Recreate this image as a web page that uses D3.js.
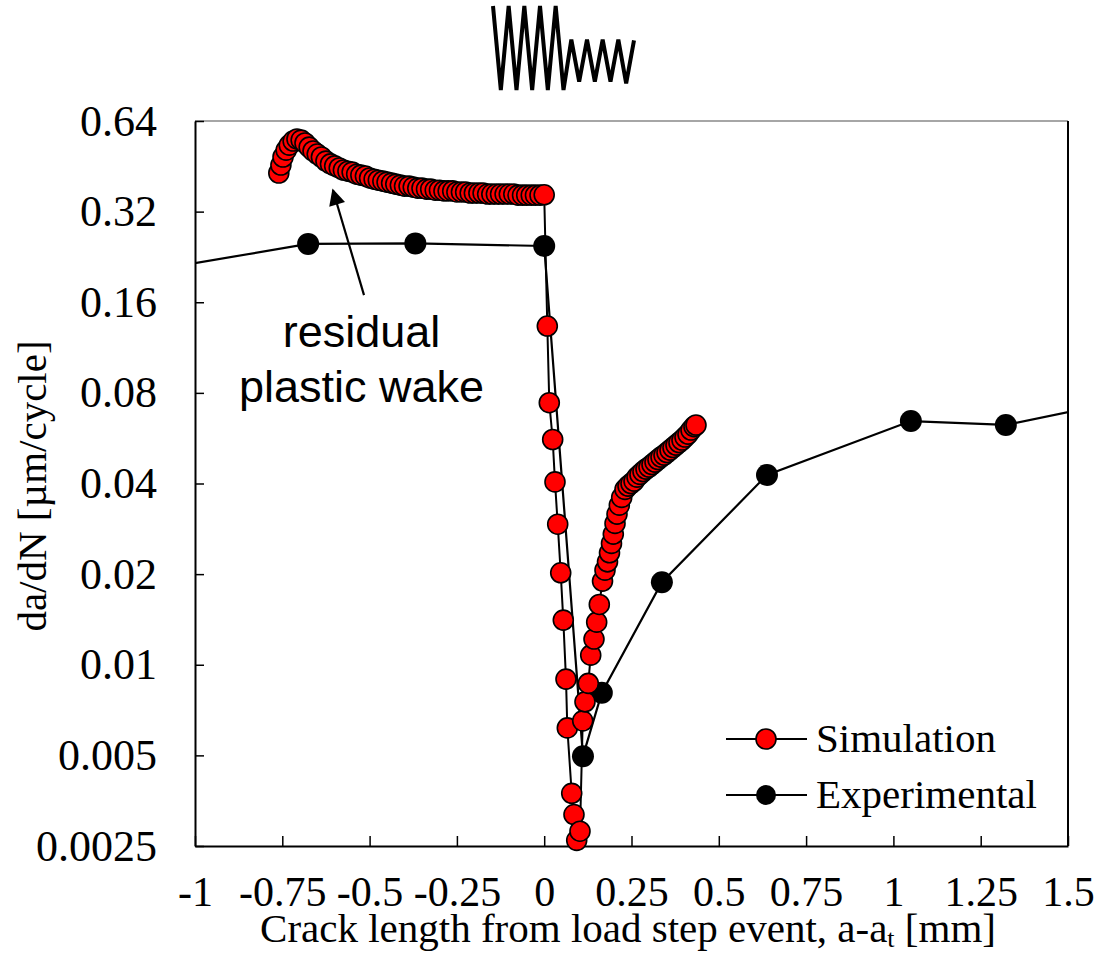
<!DOCTYPE html>
<html>
<head>
<meta charset="utf-8">
<script src="https://cdn.jsdelivr.net/npm/d3@7"></script>
<style>
  body { margin: 0; background: #fff; }
  svg { display: block; }
</style>
</head>
<body>
<div id="chart"></div>
<script>
// Simulation: crack length from load step event [mm] and da/dN [µm/cycle]
const simX = [
  -0.760, -0.754, -0.748, -0.739, -0.730, -0.719, -0.708, -0.696, -0.685, -0.673,
  -0.662, -0.650, -0.638, -0.625, -0.612, -0.600, -0.587, -0.575, -0.562, -0.550,
  -0.537, -0.525, -0.512, -0.500, -0.487, -0.475, -0.462, -0.450, -0.437, -0.425,
  -0.412, -0.400, -0.387, -0.375, -0.362, -0.350, -0.337, -0.325, -0.312, -0.300,
  -0.287, -0.275, -0.262, -0.250, -0.237, -0.225, -0.212, -0.200, -0.187, -0.175,
  -0.162, -0.150, -0.137, -0.125, -0.112, -0.100, -0.087, -0.075, -0.062, -0.050,
  -0.037, -0.025, -0.012, 0.000,
  0.0089, 0.0146, 0.0243, 0.0309, 0.0387, 0.0473, 0.0547, 0.0624, 0.0662, 0.0788,
  0.0853, 0.0931, 0.1025,
  0.1103, 0.1168, 0.1263, 0.1332, 0.1426, 0.1503, 0.1578, 0.1670, 0.1741, 0.1813,
  0.1870, 0.1927, 0.1979, 0.2028, 0.2085, 0.2151, 0.2219, 0.2314, 0.2400, 0.2486,
  0.2572, 0.2658, 0.2743, 0.2829, 0.2915, 0.3001, 0.3087, 0.3173, 0.3259, 0.3345,
  0.3431, 0.3517, 0.3603, 0.3689, 0.3774, 0.3860, 0.3946, 0.4032, 0.4118, 0.4204,
  0.4290, 0.4347
];
const simY = [
  0.430, 0.457, 0.486, 0.512, 0.532, 0.549, 0.558, 0.553, 0.541, 0.524,
  0.509, 0.497, 0.486, 0.471, 0.461, 0.454, 0.447, 0.440, 0.436, 0.433,
  0.426, 0.423, 0.420, 0.414, 0.410, 0.407, 0.404, 0.401, 0.398, 0.395,
  0.392, 0.389, 0.389, 0.386, 0.383, 0.383, 0.380, 0.380, 0.377, 0.377,
  0.375, 0.375, 0.375, 0.372, 0.372, 0.372, 0.369, 0.369, 0.369, 0.369,
  0.366, 0.366, 0.366, 0.366, 0.366, 0.366, 0.366, 0.363, 0.363, 0.363,
  0.363, 0.363, 0.363, 0.364,
  0.1334, 0.0742, 0.0560, 0.0405, 0.0293, 0.0202, 0.01407, 0.00896, 0.00617, 0.00374,
  0.00318, 0.00261, 0.00280,
  0.00651, 0.00753, 0.00867, 0.01076, 0.01217, 0.01385, 0.01586, 0.01896, 0.02062, 0.02197,
  0.02354, 0.02530, 0.02716, 0.02948, 0.03165, 0.03390, 0.03596, 0.03823, 0.03921, 0.03997,
  0.04074, 0.04200, 0.04288, 0.04381, 0.04466, 0.04535, 0.04622, 0.04712, 0.04803, 0.04895,
  0.04971, 0.05067, 0.05165, 0.05265, 0.05366, 0.05470, 0.05576, 0.05706, 0.05837, 0.06019,
  0.06182, 0.06254
];

// Experimental (first and last points lie outside the plotted range)
const expX = [-1.20, -0.676, -0.369, 0.000, 0.111, 0.165, 0.337, 0.638, 1.050, 1.322, 1.70];
const expY = [0.197, 0.250, 0.251, 0.246, 0.00497, 0.00807, 0.0188, 0.0427, 0.0645, 0.0626, 0.077];

const xTicks = [-1, -0.75, -0.5, -0.25, 0, 0.25, 0.5, 0.75, 1, 1.25, 1.5];
const yTicks = [0.0025, 0.005, 0.01, 0.02, 0.04, 0.08, 0.16, 0.32, 0.64];

// Load sequence sketch above the plot (normalised load at each reversal)
const loadSeq = [1, 0, 1, 0, 1, 0, 1, 0, 1, 0, 0.6, 0.1, 0.6, 0.1, 0.6, 0.1, 0.6, 0.08, 0.59];

const W = 1119, H = 954;
const margin = { top: 121, right: 51, bottom: 108, left: 195 };
const serif = "'Liberation Serif', 'Times New Roman', serif";
const sans = "'Liberation Sans', Arial, sans-serif";

const sim = simX.map((d, i) => ({ x: d, y: simY[i] }));
const exp = expX.map((d, i) => ({ x: d, y: expY[i] }));

const svg = d3.select("#chart").append("svg")
  .attr("width", W)
  .attr("height", H);

const x = d3.scaleLinear().domain([-1, 1.5]).range([margin.left, W - margin.right]);
const y = d3.scaleLog().base(2).domain([0.0025, 0.64]).range([H - margin.bottom, margin.top]);

const defs = svg.append("defs");
defs.append("clipPath").attr("id", "plot")
  .append("rect")
  .attr("x", x(-1)).attr("y", y(0.64))
  .attr("width", x(1.5) - x(-1)).attr("height", y(0.0025) - y(0.64));

// frame
svg.append("line")
  .attr("x1", x(-1)).attr("x2", x(1.5))
  .attr("y1", y(0.64)).attr("y2", y(0.64))
  .attr("stroke", "#888").attr("stroke-width", 1.5);
svg.append("line")
  .attr("x1", x(1.5)).attr("x2", x(1.5))
  .attr("y1", y(0.64)).attr("y2", y(0.0025))
  .attr("stroke", "#000").attr("stroke-width", 2);

// Axes
const xAxis = svg.append("g")
  .attr("transform", `translate(0,${y(0.0025)})`)
  .call(d3.axisBottom(x).tickValues(xTicks).tickFormat(d => String(d))
    .tickSizeInner(-10).tickSizeOuter(0).tickPadding(30));
const yAxis = svg.append("g")
  .attr("transform", `translate(${x(-1)},0)`)
  .call(d3.axisLeft(y).tickValues(yTicks).tickFormat(d => String(d))
    .tickSizeInner(-9).tickSizeOuter(0).tickPadding(38));

xAxis.attr("font-family", serif).attr("font-size", 42);
yAxis.attr("font-family", serif).attr("font-size", 44);
[xAxis, yAxis].forEach(g => {
  g.select(".domain").attr("stroke", "#000").attr("stroke-width", 2);
  g.selectAll(".tick line").attr("stroke", "#000").attr("stroke-width", 1.5);
  g.selectAll(".tick text").attr("fill", "#000");
});

// Axis titles
const xTitle = svg.append("text")
  .attr("x", 628).attr("y", 942)
  .attr("text-anchor", "middle")
  .attr("font-family", serif).attr("font-size", 41)
  .text("Crack length from load step event, a-a");
xTitle.append("tspan").attr("font-size", 26).attr("dy", 5).text("t");
xTitle.append("tspan").attr("dy", -5).text(" [mm]");

svg.append("text")
  .attr("transform", "translate(46,486) rotate(-90)")
  .attr("text-anchor", "middle")
  .attr("font-family", serif).attr("font-size", 41)
  .text("da/dN [µm/cycle]");

const line = d3.line().x(d => x(d.x)).y(d => y(d.y));
const plot = svg.append("g").attr("clip-path", "url(#plot)");

// Simulation series
plot.append("path").datum(sim)
  .attr("d", line)
  .attr("fill", "none").attr("stroke", "#000").attr("stroke-width", 2);
svg.append("g").selectAll("circle")
  .data(sim)
  .join("circle")
  .attr("cx", d => x(d.x)).attr("cy", d => y(d.y))
  .attr("r", 10)
  .attr("fill", "#ff0000").attr("stroke", "#000").attr("stroke-width", 1.6);

// Experimental series
plot.append("path").datum(exp)
  .attr("d", line)
  .attr("fill", "none").attr("stroke", "#000").attr("stroke-width", 2.2);
plot.append("g").selectAll("circle")
  .data(exp)
  .join("circle")
  .attr("cx", d => x(d.x)).attr("cy", d => y(d.y))
  .attr("r", 11)
  .attr("fill", "#000");

// Annotation
defs.append("marker")
  .attr("id", "arrow")
  .attr("viewBox", "0 0 10 10")
  .attr("refX", 9).attr("refY", 5)
  .attr("markerWidth", 8).attr("markerHeight", 7.5)
  .attr("markerUnits", "strokeWidth")
  .attr("orient", "auto")
  .append("path").attr("d", "M0,0 L10,5 L0,10 Z").attr("fill", "#000");

svg.append("line")
  .attr("x1", x(-0.516)).attr("y1", y(0.169))
  .attr("x2", x(-0.605)).attr("y2", y(0.377))
  .attr("stroke", "#000").attr("stroke-width", 2.2)
  .attr("marker-end", "url(#arrow)");

const note = svg.append("text")
  .attr("text-anchor", "middle")
  .attr("font-family", sans).attr("font-size", 45)
  .attr("fill", "#000");
note.append("tspan").attr("x", x(-0.523)).attr("y", y(0.1138)).text("residual");
note.append("tspan").attr("x", x(-0.523)).attr("y", y(0.0747)).text("plastic wake");

// Legend
const legend = svg.append("g").attr("font-family", serif).attr("font-size", 41);
const items = [
  { label: "Simulation", fill: "#ff0000", stroke: "#000", cy: 739 },
  { label: "Experimental", fill: "#000", stroke: "none", cy: 795 }
];
items.forEach(it => {
  legend.append("line")
    .attr("x1", 726).attr("x2", 807).attr("y1", it.cy).attr("y2", it.cy)
    .attr("stroke", "#000").attr("stroke-width", 2.2);
  legend.append("circle")
    .attr("cx", 766).attr("cy", it.cy).attr("r", 10)
    .attr("fill", it.fill).attr("stroke", it.stroke).attr("stroke-width", 1.6);
  legend.append("text")
    .attr("x", 816).attr("y", it.cy + 13)
    .text(it.label);
});

// Load sequence icon
const lx = d3.scaleLinear().domain([0, loadSeq.length - 1]).range([493, 634]);
const ly = d3.scaleLinear().domain([0, 1]).range([90, 6]);
svg.append("path").datum(loadSeq)
  .attr("d", d3.line().x((d, i) => lx(i)).y(d => ly(d)))
  .attr("fill", "none").attr("stroke", "#000").attr("stroke-width", 4)
  .attr("stroke-linejoin", "miter").attr("stroke-miterlimit", 3);
</script>
</body>
</html>
